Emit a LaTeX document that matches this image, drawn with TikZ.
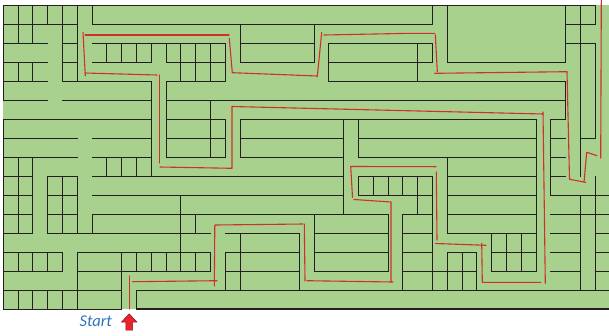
\documentclass[tikz,border=0pt]{standalone}
\usepackage{fontspec}
\newfontfamily\startfont{Carlito}
\definecolor{mazegreen}{RGB}{169,209,142}
\definecolor{wallc}{RGB}{35,31,32}
\definecolor{pathred}{RGB}{208,48,44}
\definecolor{startblue}{RGB}{46,117,182}
\definecolor{arrowred}{RGB}{232,35,45}
\tikzset{
  wall/.style={draw=wallc, line width=0.9pt, line cap=rect},
  thickwall/.style={draw=wallc, line width=2.2pt},
  redpath/.style={draw=pathred, line width=1.1pt, line cap=round, line join=round},
  starttext/.style={text=startblue, font=\startfont\itshape\fontsize{16.5}{18}\selectfont, anchor=base, inner sep=0pt},
  arrowshape/.style={fill=arrowred, draw=arrowred!60!black, line width=0.5pt, line join=miter}
}
\begin{document}
\begin{tikzpicture}[x=1pt,y=-1pt]
\useasboundingbox (0,0) rectangle (609,335);
\fill[mazegreen] (3.3,5.3) rectangle (609,309.3);
\begin{scope}[shift={(3.3pt,-5.3pt)}, x=14.8pt, y=-19pt]
\def\E{40.93}
% horizontal walls  k / from j / to j
\foreach \k/\a/\b in {0/0/40,
  1/0/5, 1/6/29, 1/38/40,
  2/0/3, 2/4/5, 2/6/15, 2/16/21, 2/22/29, 2/38/40,
  3/0/3, 3/4/5, 3/6/10, 3/11/15, 3/16/21, 3/22/29, 3/30/38,
  4/0/3, 4/4/10, 4/11/15, 4/22/38,
  5/0/3, 5/4/10, 5/11/38,
  6/0/10, 6/11/15, 6/16/36, 6/37/38,
  7/0/5, 7/6/10, 7/11/15, 7/16/23, 7/24/36, 7/37/38, 7/39/40,
  8/0/5, 8/6/10, 8/11/15, 8/16/23, 8/24/36, 8/37/38,
  9/0/2, 9/3/5, 9/6/23, 9/24/29, 9/30/36, 9/37/38,
  10/0/2, 10/3/5, 10/6/23, 10/24/29, 10/30/36, 10/37/\E,
  11/0/2, 11/3/5, 11/6/26, 11/27/29, 11/30/36, 11/37/\E,
  12/0/2, 12/3/14, 12/15/20, 12/21/26, 12/27/29, 12/30/36, 12/37/39, 12/40/\E,
  13/0/4, 13/5/14, 13/15/20, 13/21/26, 13/27/29, 13/30/32, 13/33/36, 13/37/39, 13/40/\E,
  14/0/4, 14/5/14, 14/15/20, 14/21/26, 14/27/32, 14/33/36, 14/37/39, 14/40/\E,
  15/0/8, 15/9/\E,
  16/0/8}
  \draw[wall] (\a,\k) -- (\b,\k);
% vertical walls  j / from k / to k
\foreach \j/\a/\b in {0/0/5, 0/6/16,
  1/0/2, 1/3/4, 1/8/12, 1/13/14, 1/15/16,
  2/0/2, 2/3/4, 2/8/12, 2/13/14, 2/15/16,
  3/0/1, 3/9/12, 3/13/14, 3/15/16,
  4/0/4, 4/9/12, 4/13/14, 4/15/16,
  5/0/4, 5/9/12, 5/13/16,
  6/0/1, 6/11/12,
  7/2/3, 7/8/9,
  8/2/3, 8/8/9, 8/13/16,
  9/2/3, 9/8/9, 9/13/14, 9/15/16,
  10/2/3, 10/4/9, 10/13/14,
  11/2/3, 11/4/8, 11/13/14,
  12/2/4, 12/10/14,
  13/2/4, 13/11/12, 13/13/14,
  14/2/4, 14/5/8, 14/13/14,
  15/2/4, 15/6/8, 15/13/15,
  16/1/3, 16/6/8, 16/12/15,
  20/12/15,
  21/1/3, 21/11/14,
  22/2/4,
  23/6/11,
  24/6/8, 24/9/10,
  25/9/10,
  26/9/10, 26/11/14,
  27/9/10, 27/11/15,
  28/2/4, 28/9/11,
  29/0/1, 29/2/3, 29/9/15,
  30/0/3, 30/8/12, 30/13/15,
  31/13/15, 32/13/15,
  33/12/14, 34/12/14, 35/12/14,
  36/6/14,
  37/6/10,
  38/0/3, 38/4/6,
  39/0/9, 39/10/15,
  40/0/1, 40/2/7, 40/9/15}
  \draw[wall] (\j,\a) -- (\j,\b);
\draw[thickwall] (9,16) -- (\E,16);
\end{scope}
% solution path (hand drawn strokes)
\draw[redpath] (129.3,276) -- (129.3,309);
\draw[redpath] (132.7,281.7) -- (217,280.7);
\draw[redpath] (214.3,286) -- (214.8,225) -- (303,224);
\draw[redpath] (304.3,224) -- (305,281);
\draw[redpath] (307,280.7) -- (393,282);
\draw[redpath] (391,282) -- (391,202) -- (354,199.5);
\draw[redpath] (352.5,197.3) -- (350.7,166.5) -- (436,166.7);
\draw[redpath] (436.3,172) -- (437,240);
\draw[redpath] (435.7,243.5) -- (486,245.3);
\draw[redpath] (481.7,243.3) -- (482.3,282.3) -- (540.7,282.3);
\draw[redpath] (545.3,283.3) -- (543,112);
\draw[redpath] (543.3,114) -- (232,106.5) -- (232,168.3) -- (160,167);
\draw[redpath] (159.3,163) -- (159.3,75);
\draw[redpath] (157,75) -- (85,73);
\draw[redpath] (85.3,75.7) -- (83,32.3);
\draw[redpath] (85,35) -- (229,35);
\draw[redpath] (229.3,38.3) -- (232.3,72.7) -- (317.3,76);
\draw[redpath] (317.3,76.7) -- (321.7,32.3);
\draw[redpath] (324,35) -- (410,33.3) -- (434.7,33.3);
\draw[redpath] (435.3,34.7) -- (437.3,71.7);
\draw[redpath] (434.7,73.3) -- (567,71.7);
\draw[redpath] (567,72) -- (569.5,179.3) -- (585.7,182.3);
\draw[redpath] (584,182.3) -- (586.7,152.3) -- (597,155.7);
\draw[redpath] (600.7,158) -- (601.3,0);
% start label and arrow
\node[starttext] (start) at (95.8,326.7) {Start};
\draw[arrowshape] (129.2,313.8) -- (136.9,322) -- (132.6,322) -- (132.6,330.2)
  -- (125.8,330.2) -- (125.8,322) -- (121.5,322) -- cycle;
\end{tikzpicture}
\end{document}
